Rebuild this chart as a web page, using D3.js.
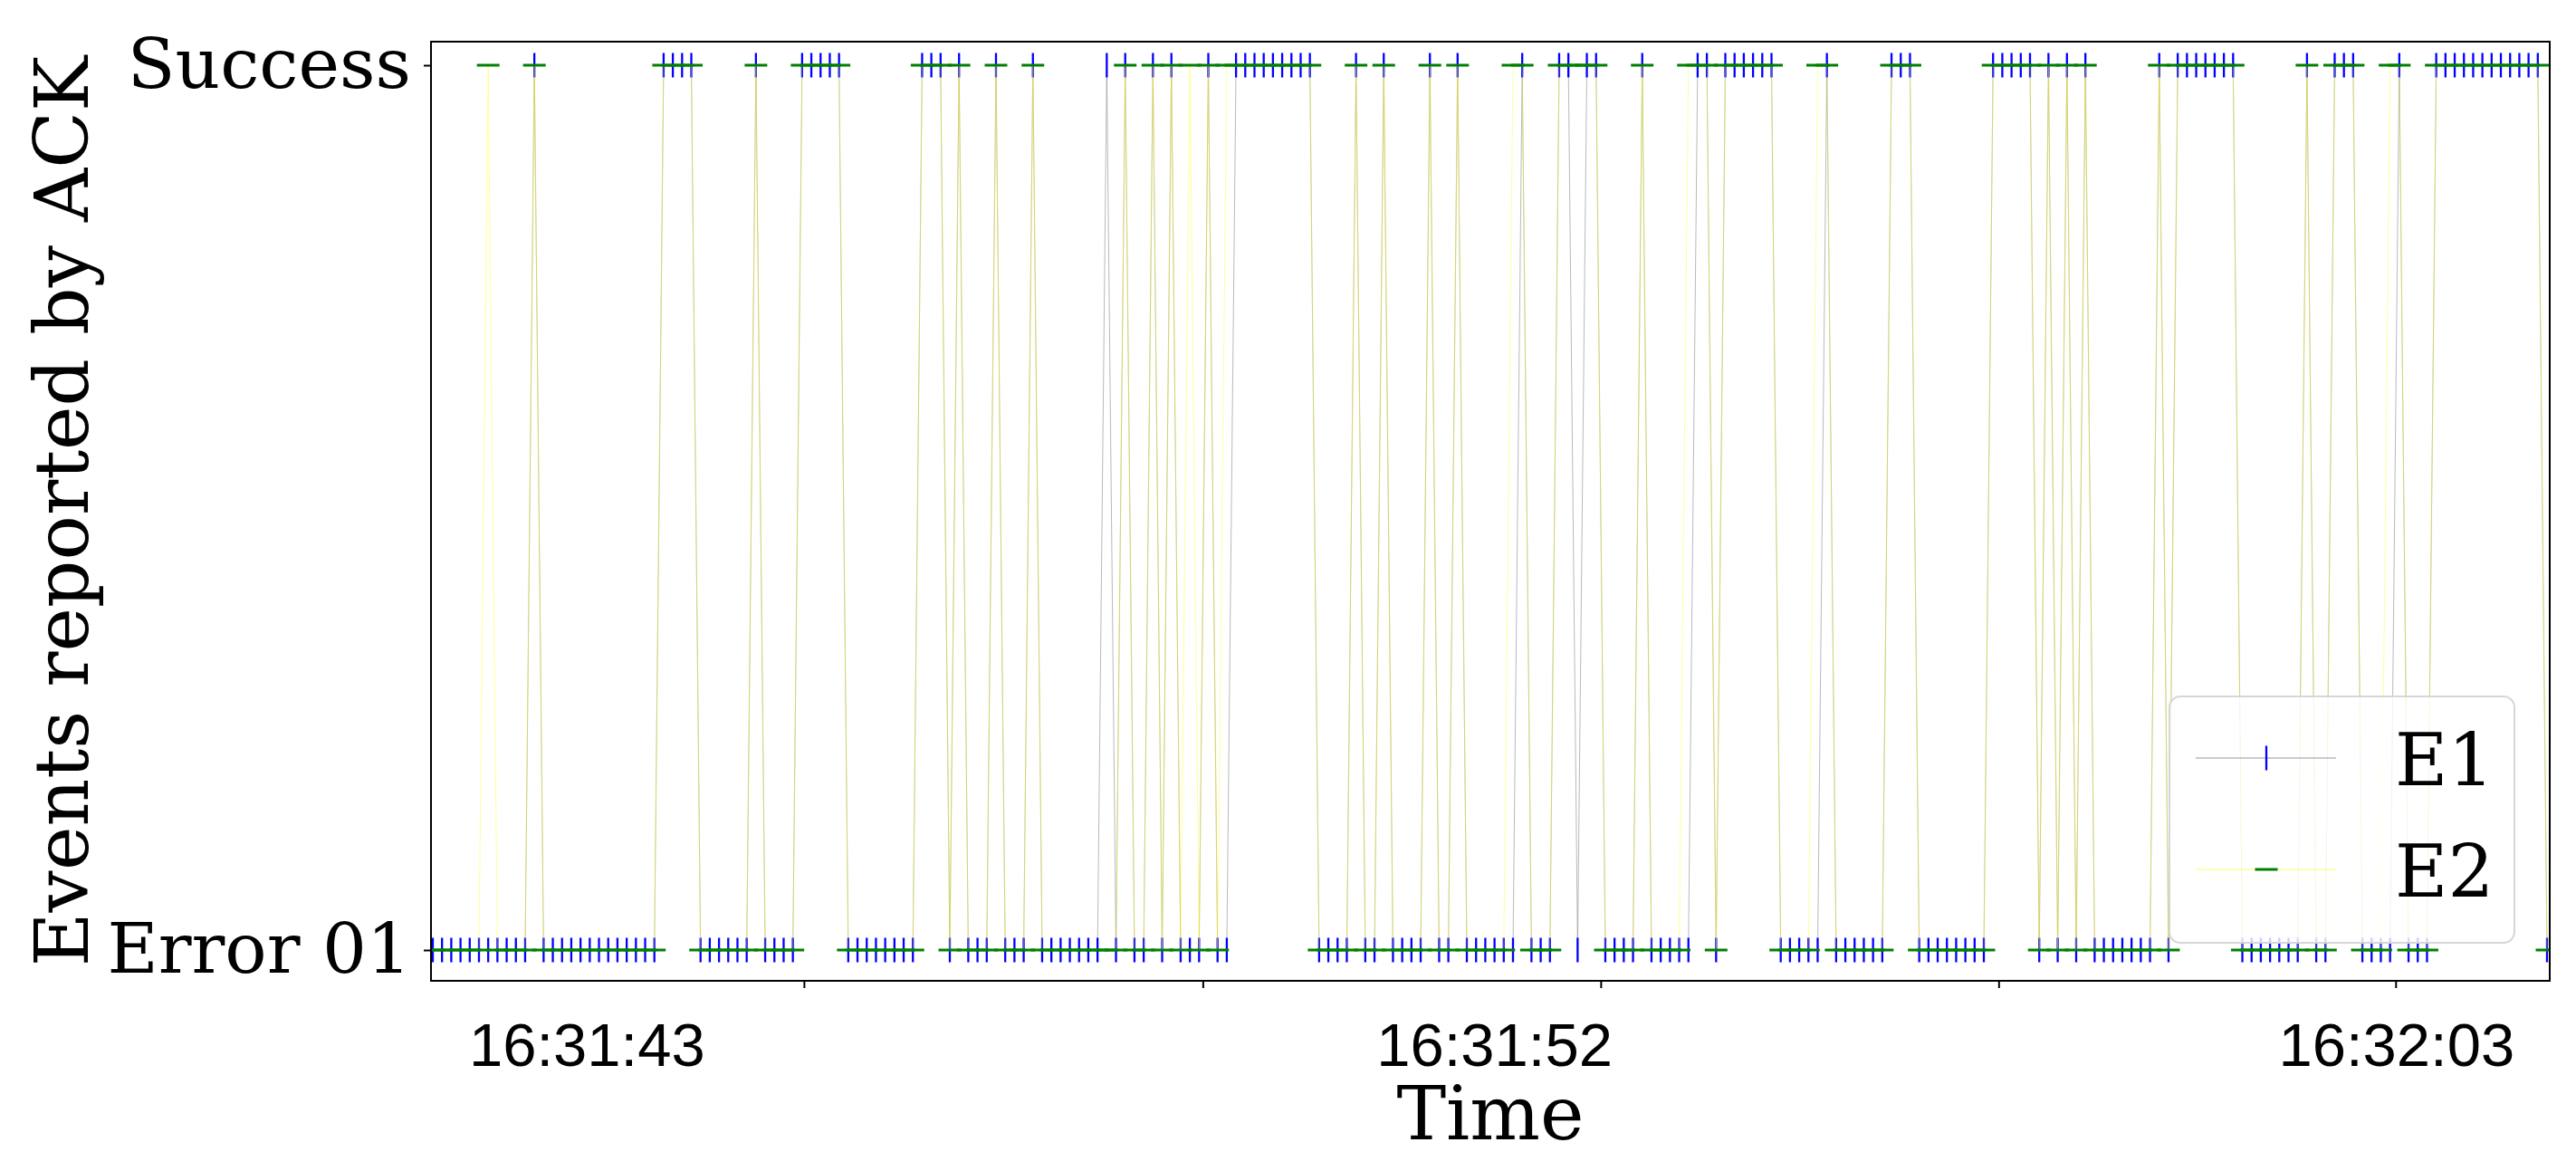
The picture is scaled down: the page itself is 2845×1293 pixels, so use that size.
<!DOCTYPE html>
<html>
<head>
<meta charset="utf-8">
<script src="https://cdn.jsdelivr.net/npm/d3@7"></script>
<style>
  body { margin: 0; background: #fff; }
</style>
</head>
<body>
<script>
// y categories
const states = ["Error 01", "Success"];

// state per sample (0 = Error 01, 1 = Success), one row per 10 samples
const e1 = [
  0,0,0,0,0,0,0,0,0,0,
  0,1,0,0,0,0,0,0,0,0,
  0,0,0,0,0,1,1,1,1,0,
  0,0,0,0,0,1,0,0,0,0,
  1,1,1,1,1,0,0,0,0,0,
  0,0,0,1,1,1,0,1,0,0,
  0,1,0,0,0,1,0,0,0,0,
  0,0,0,1,0,1,0,0,1,0,
  1,0,0,0,1,0,0,1,1,1,
  1,1,1,1,1,1,0,0,0,0,
  1,0,0,1,0,0,0,0,1,0,
  0,1,0,0,0,0,0,0,1,0,
  0,0,1,1,0,1,1,0,0,0,
  0,1,0,0,0,0,0,1,1,0,
  1,1,1,1,1,1,0,0,0,0,
  0,1,0,0,0,0,0,0,1,1,
  1,0,0,0,0,0,0,0,0,1,
  1,1,1,1,0,1,0,1,0,1,
  0,0,0,0,0,0,0,1,0,1,
  1,1,1,1,1,1,0,0,0,0,
  0,0,0,1,0,0,1,1,1,0,
  0,0,0,1,0,0,0,1,1,1,
  1,1,1,1,1,1,1,1,1,0
];
const e2 = [
  0,0,0,0,0,0,1,0,0,0,
  0,1,0,0,0,0,0,0,0,0,
  0,0,0,0,0,1,1,1,1,0,
  0,0,0,0,0,1,0,0,0,0,
  1,1,1,1,1,0,0,0,0,0,
  0,0,0,1,1,1,0,1,0,0,
  0,1,0,0,0,1,0,0,0,0,
  0,0,0,0,0,1,0,0,1,0,
  1,0,1,0,1,0,1,1,1,1,
  1,1,1,1,1,1,0,0,0,0,
  1,0,0,1,0,0,0,0,1,0,
  0,1,0,0,0,0,0,1,1,0,
  0,0,1,1,1,1,1,0,0,0,
  0,1,0,0,0,0,1,1,1,0,
  1,1,1,1,1,1,0,0,0,0,
  1,1,0,0,0,0,0,0,1,1,
  1,0,0,0,0,0,0,0,0,1,
  1,1,1,1,0,1,0,1,0,1,
  0,0,0,0,0,0,0,1,0,1,
  1,1,1,1,1,1,0,0,0,0,
  0,0,0,1,0,0,1,1,1,0,
  0,0,1,1,0,0,0,1,1,1,
  1,1,1,1,1,1,1,1,1,0
];

// x axis: tick marks and time labels, in sample index units
const tickIdx = [40.2, 83.4, 126.5, 169.6, 212.6];
const timeLabels = ["16:31:43", "16:31:52", "16:32:03"];
const timeLabelIdx = [16.7, 115, 212.7];

const series = [
  {name: "E1", values: e1, line: "#8a8a8a", lineOpacity: 0.6, marker: "vline", markerColor: "#0000ff"},
  {name: "E2", values: e2, line: "#ffff00", lineOpacity: 0.4, marker: "hline", markerColor: "#008000"}
];

const width = 2845, height = 1293;
const plot = {left: 476, right: 2816, top: 46, bottom: 1083};
const serif = "'DejaVu Serif', serif";

const x = d3.scaleLinear([0, e1.length - 1], [478, 2813]);
const y = d3.scalePoint(states, [1049, 72]);

const svg = d3.select("body").append("svg")
    .attr("width", width)
    .attr("height", height)
    .attr("viewBox", [0, 0, width, height]);

svg.append("clipPath").attr("id", "clip")
  .append("rect")
    .attr("x", plot.left).attr("y", plot.top)
    .attr("width", plot.right - plot.left).attr("height", plot.bottom - plot.top);

const g = svg.append("g").attr("clip-path", "url(#clip)");

const line = d3.line()
    .x((d, i) => x(i))
    .y(d => y(states[d]));

const half = 12.5; // marker half size

series.forEach(s => {
  g.append("path")
      .attr("d", line(s.values))
      .attr("fill", "none")
      .attr("stroke", s.line)
      .attr("stroke-opacity", s.lineOpacity)
      .attr("stroke-width", 1);

  const m = g.append("g")
      .attr("stroke", s.markerColor)
      .attr("stroke-width", s.marker === "vline" ? 2.3 : 3)
    .selectAll("line")
    .data(s.values)
    .join("line");

  if (s.marker === "vline") {
    m.attr("x1", (d, i) => x(i)).attr("x2", (d, i) => x(i))
     .attr("y1", d => y(states[d]) - half - 1).attr("y2", d => y(states[d]) + half + 1);
  } else {
    m.attr("x1", (d, i) => x(i) - half).attr("x2", (d, i) => x(i) + half)
     .attr("y1", d => y(states[d])).attr("y2", d => y(states[d]));
  }
});

// frame
svg.append("rect")
    .attr("x", plot.left).attr("y", plot.top)
    .attr("width", plot.right - plot.left).attr("height", plot.bottom - plot.top)
    .attr("fill", "none")
    .attr("stroke", "#000")
    .attr("stroke-width", 2);

// y axis
const yAxis = svg.append("g")
    .attr("transform", `translate(${plot.left},0)`)
    .call(d3.axisLeft(y).tickSize(8).tickPadding(14));
yAxis.select(".domain").remove();
yAxis.selectAll(".tick line").attr("stroke-width", 2);
yAxis.selectAll(".tick text")
    .attr("font-family", serif)
    .attr("font-size", 77)
    .attr("fill", "#000");

// x axis: unlabeled tick marks
const xAxis = svg.append("g")
    .attr("transform", `translate(0,${plot.bottom})`)
    .call(d3.axisBottom(x).tickValues(tickIdx).tickSize(8).tickFormat(""));
xAxis.select(".domain").remove();
xAxis.selectAll(".tick line").attr("stroke-width", 2);

svg.append("g")
    .attr("font-family", "'Liberation Sans', Arial, sans-serif")
    .attr("font-size", 67)
    .attr("text-anchor", "middle")
  .selectAll("text")
  .data(timeLabels)
  .join("text")
    .attr("x", (d, i) => x(timeLabelIdx[i]))
    .attr("y", 1177)
    .text(d => d);

// axis titles
svg.append("text")
    .attr("x", (plot.left + plot.right) / 2)
    .attr("y", 1258)
    .attr("text-anchor", "middle")
    .attr("font-family", serif)
    .attr("font-size", 82)
    .text("Time");

svg.append("text")
    .attr("transform", `translate(97,${(plot.top + plot.bottom) / 2}) rotate(-90)`)
    .attr("text-anchor", "middle")
    .attr("font-family", serif)
    .attr("font-size", 82)
    .text("Events reported by ACK");

// legend
const legend = svg.append("g").attr("transform", "translate(2396,769)");
legend.append("rect")
    .attr("width", 381).attr("height", 272)
    .attr("rx", 12)
    .attr("fill", "#fff").attr("fill-opacity", 0.8)
    .attr("stroke", "#d6d6d6").attr("stroke-width", 2);

const item = legend.selectAll(".item")
  .data(series)
  .join("g")
    .attr("class", "item")
    .attr("transform", (d, i) => `translate(0,${68 + i * 123})`);

item.append("line")
    .attr("x1", 29).attr("x2", 184)
    .attr("stroke", d => d.line)
    .attr("stroke-opacity", d => d.lineOpacity)
    .attr("stroke-width", 1.3);

item.append("line")
    .attr("x1", d => d.marker === "vline" ? 107 : 107 - half)
    .attr("x2", d => d.marker === "vline" ? 107 : 107 + half)
    .attr("y1", d => d.marker === "vline" ? -half - 1 : 0)
    .attr("y2", d => d.marker === "vline" ? half + 1 : 0)
    .attr("stroke", d => d.markerColor)
    .attr("stroke-width", d => d.marker === "vline" ? 2.3 : 3);

item.append("text")
    .attr("x", 249)
    .attr("y", 30)
    .attr("font-family", serif)
    .attr("font-size", 80)
    .text(d => d.name);
</script>
</body>
</html>
